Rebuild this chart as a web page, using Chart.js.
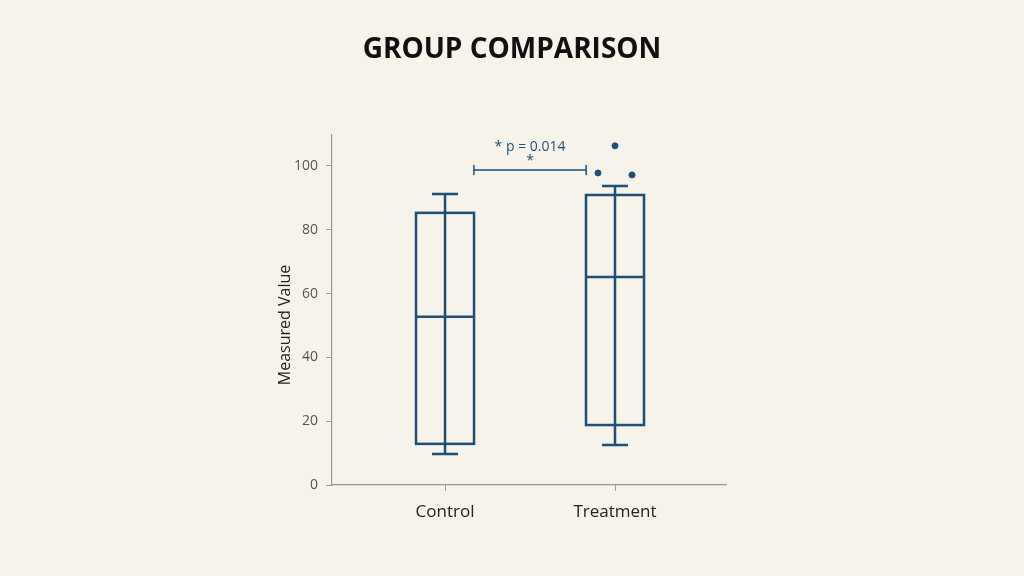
<!DOCTYPE html>
<html>
<head>
<meta charset="utf-8">
<script src="https://cdn.jsdelivr.net/npm/chart.js@4"></script>
<style>
  body { margin: 0; background: #f5f3ea; }
  #wrap { width: 1024px; height: 576px; }
</style>
</head>
<body>
<div id="wrap"><canvas id="box"></canvas></div>
<script>
var groups = ['Control', 'Treatment'];
var whiskerLow = [9.7, 12.5];
var q1 = [12.9, 18.8];
var median = [52.7, 65.2];
var q3 = [85.3, 90.9];
var whiskerHigh = [91.2, 93.7];
var outlierGroup = [1, 1, 1];
var outlierOffset = [-0.1, 0, 0.1];
var outlierValue = [97.8, 106.3, 97.2];
var yTicks = [0, 20, 40, 60, 80, 100];

var blue = '#1f4e79';

var boxPlugin = {
  id: 'boxes',
  afterDatasetsDraw: function (chart) {
    var c = chart.ctx, x = chart.scales.x, y = chart.scales.y;
    c.save();
    c.strokeStyle = blue;
    c.lineWidth = 2.5;
    groups.forEach(function (g, i) {
      var cx = x.getPixelForValue(i);
      var half = 29, cap = 13;
      c.beginPath();
      c.moveTo(cx, y.getPixelForValue(whiskerLow[i]));
      c.lineTo(cx, y.getPixelForValue(whiskerHigh[i]));
      c.moveTo(cx - cap, y.getPixelForValue(whiskerLow[i]));
      c.lineTo(cx + cap, y.getPixelForValue(whiskerLow[i]));
      c.moveTo(cx - cap, y.getPixelForValue(whiskerHigh[i]));
      c.lineTo(cx + cap, y.getPixelForValue(whiskerHigh[i]));
      c.moveTo(cx - half, y.getPixelForValue(median[i]));
      c.lineTo(cx + half, y.getPixelForValue(median[i]));
      c.stroke();
      var top = y.getPixelForValue(q3[i]), bot = y.getPixelForValue(q1[i]);
      c.strokeRect(cx - half, top, half * 2, bot - top);
    });
    // significance bracket
    var bx1 = x.getPixelForValue(0.17), bx2 = x.getPixelForValue(0.83);
    var by = y.getPixelForValue(98.7);
    c.lineWidth = 1.5;
    c.beginPath();
    c.moveTo(bx1, by); c.lineTo(bx2, by);
    c.moveTo(bx1, by - 5); c.lineTo(bx1, by + 5);
    c.moveTo(bx2, by - 5); c.lineTo(bx2, by + 5);
    c.stroke();
    c.fillStyle = blue;
    c.textAlign = 'center';
    c.textBaseline = 'middle';
    c.font = '14px "Open Sans", sans-serif';
    c.fillText('* p = 0.014', (bx1 + bx2) / 2, by - 23);
    c.fillText('*', (bx1 + bx2) / 2, by - 9);
    // title
    c.fillStyle = '#111';
    c.font = 'bold 28px "Open Sans", sans-serif';
    c.fillText('GROUP COMPARISON', 512, 50);
    // y axis title
    c.font = '16px "Open Sans", sans-serif';
    c.translate(285, (chart.chartArea.top + chart.chartArea.bottom) / 2 + 15);
    c.rotate(-Math.PI / 2);
    c.fillStyle = '#222';
    c.fillText('Measured Value', 0, 0);
    c.restore();
  }
};

new Chart(document.getElementById('box'), {
  type: 'scatter',
  data: {
    datasets: [{
      data: outlierValue.map(function (v, i) { return { x: outlierGroup[i] + outlierOffset[i], y: v }; }),
      backgroundColor: blue,
      borderColor: blue,
      pointRadius: 3
    }]
  },
  options: {
    animation: false,
    responsive: true,
    maintainAspectRatio: false,
    layout: { padding: { top: 135, right: 298, left: 0, bottom: 0 } },
    plugins: { legend: { display: false }, tooltip: { enabled: false } },
    scales: {
      x: {
        type: 'linear',
        min: -0.665, max: 1.653,
        afterBuildTicks: function (s) { s.ticks = groups.map(function (g, i) { return { value: i }; }); },
        afterFit: function (s) { s.height = 91; },
        ticks: { callback: function (v) { return groups[v]; }, color: '#222', font: { size: 17, family: 'Open Sans' }, padding: 11 },
        grid: { drawOnChartArea: false, tickLength: 6, color: '#999' },
        border: { color: '#999', width: 1.2 }
      },
      y: {
        min: 0, max: 109.7,
        afterBuildTicks: function (s) { s.ticks = yTicks.map(function (v) { return { value: v }; }); },
        afterFit: function (s) { s.width = 332; },
        ticks: { color: '#555', font: { size: 14, family: 'Open Sans' }, padding: 8 },
        grid: { drawOnChartArea: false, tickLength: 6, color: '#999' },
        border: { color: '#999', width: 1.2 }
      }
    }
  },
  plugins: [boxPlugin]
});
</script>
</body>
</html>
